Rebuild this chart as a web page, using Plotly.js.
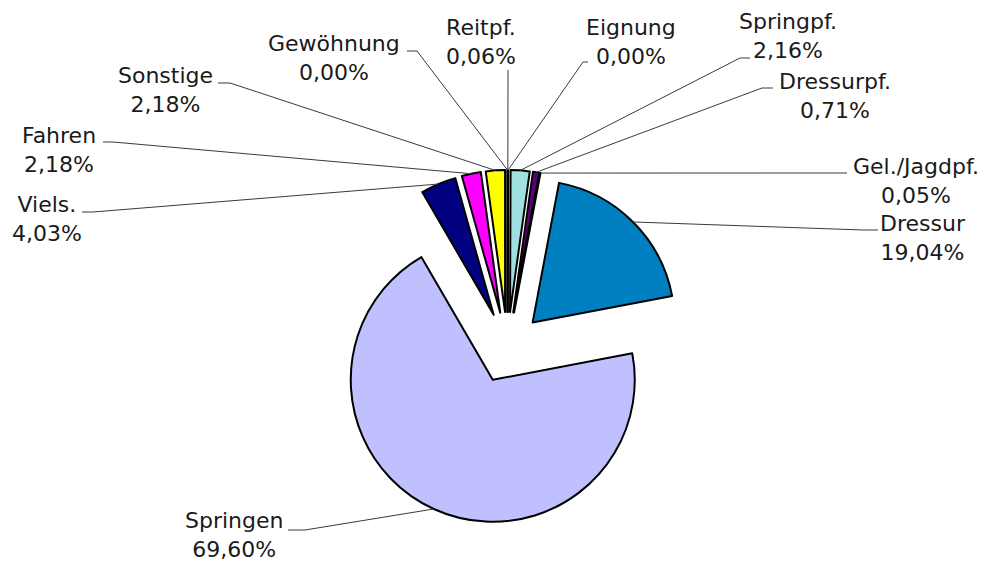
<!DOCTYPE html>
<html><head><meta charset="utf-8">
<script src="https://cdn.plot.ly/plotly-3.0.1.min.js"></script>
<style>html,body{margin:0;padding:0;background:#fff;}#chart{width:985px;height:563px;}</style>
</head><body><div id="chart"></div>
<script>
// ---- data ----
const categories = ["Reitpf.", "Eignung", "Springpf.", "Dressurpf.", "Gel./Jagdpf.", "Dressur", "Springen", "Viels.", "Fahren", "Sonstige", "Gewöhnung"];
const shares = [0.06, 0.00, 2.16, 0.71, 0.05, 19.04, 69.60, 4.03, 2.18, 2.18, 0.00];
const sliceColors = ["#008080", "#993366", "#A0E0E0", "#600080", "#800000", "#0080C0", "#C0C0FF", "#000080", "#FF00FF", "#FFFF00", "#FFFFCC"];

// ---- layout config (pixel positions of label blocks and leader starts) ----
const W = 985, H = 563;
const pieCx = 507.5, pieCy = 347.5, pieR = 142, pullFrac = 0.25;
// [text center x, text block center y, leader start x, start y, elbow x]
const labelPos = {
  "Reitpf.":      [481, 42, 508, 70, 508],
  "Eignung":      [631, 42, 588, 62, 583],
  "Springpf.":    [788, 36, 750, 58, 740],
  "Dressurpf.":   [835, 96, 773, 88, 762],
  "Gel./Jagdpf.": [916, 181, 847, 173, 847],
  "Dressur":      [923, 238, 878, 230, 863],
  "Springen":     [234, 535, 288, 530, 305],
  "Viels.":       [47, 219, 82, 212, 93],
  "Fahren":       [59, 150, 103, 142, 113],
  "Sonstige":     [165, 90, 218, 83, 230],
  "Gewöhnung":    [334, 58, 407, 51, 417]
};

const px = x => x / W;
const py = y => 1 - y / H;
const ext = pieR * (1 + pullFrac);

const total = shares.reduce((a, b) => a + b, 0);
const annotations = [], shapes = [];
let cum = 0;
categories.forEach((c, i) => {
  const mid = 2 * Math.PI * (cum + shares[i] / 2) / total;
  cum += shares[i];
  const ex = pieCx + ext * Math.sin(mid), ey = pieCy - ext * Math.cos(mid);
  const p = labelPos[c];
  const txt = c + "<br>" + shares[i].toFixed(2).replace(".", ",") + "%";
  annotations.push({
    text: txt, xref: "paper", yref: "paper", x: px(p[0]), y: py(p[1]),
    xanchor: "center", yanchor: "middle", showarrow: false, align: "center",
    borderpad: 0, font: {family: "DejaVu Sans", size: 22, color: "#1a1a1a"}
  });
  const lineStyle = {color: "#3a3a3a", width: 1};
  if (p[4] !== p[2]) {
    shapes.push({type: "line", xref: "paper", yref: "paper",
      x0: px(p[2]), y0: py(p[3]), x1: px(p[4]), y1: py(p[3]), line: lineStyle});
  }
  shapes.push({type: "line", xref: "paper", yref: "paper",
    x0: px(p[4]), y0: py(p[3]), x1: px(ex), y1: py(ey), line: lineStyle});
});

const half = ext;
const trace = {
  type: "pie",
  labels: categories,
  values: shares,
  sort: false,
  direction: "clockwise",
  rotation: 0,
  pull: categories.map(() => pullFrac),
  marker: {colors: sliceColors, line: {color: "#000", width: 2}},
  textinfo: "none",
  hoverinfo: "skip",
  showlegend: false,
  domain: {x: [px(pieCx - half), px(pieCx + half)], y: [py(pieCy + half), py(pieCy - half)]}
};

Plotly.newPlot("chart", [trace], {
  width: W, height: H,
  margin: {l: 0, r: 0, t: 0, b: 0},
  paper_bgcolor: "#fff",
  showlegend: false,
  annotations: annotations,
  shapes: shapes
}, {staticPlot: true});
</script>
</body></html>
